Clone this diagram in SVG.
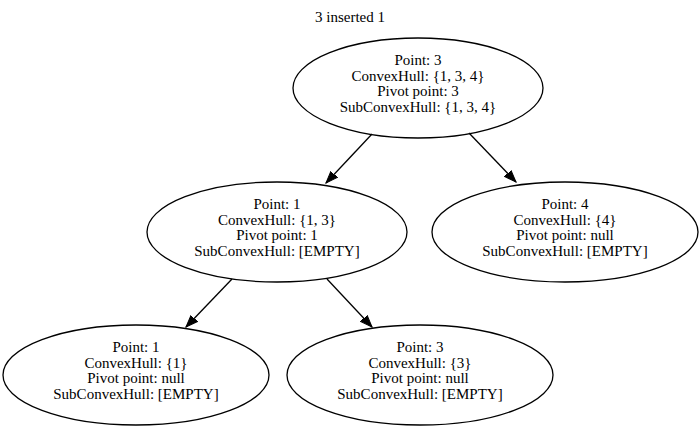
<svg xmlns="http://www.w3.org/2000/svg" width="700" height="434" viewBox="0 0 700 434">
<defs>
<style>
.n ellipse{fill:none;stroke:#000;stroke-width:1.3}
.e path{fill:none;stroke:#000;stroke-width:1.3}
</style>
<marker id="ah" markerWidth="14" markerHeight="11" refX="12" refY="4.5" orient="auto" markerUnits="userSpaceOnUse" viewBox="0 0 14 9">
<path d="M0,0 L12,4.5 L0,9 Z" fill="#000" stroke="#000"/>
</marker>
</defs>
<rect width="700" height="434" fill="#fff"/>
<g font-family="'Liberation Serif', 'Times New Roman', Times, serif" font-size="15" text-anchor="middle" fill="#000">
<text x="350" y="22">3 inserted 1</text>
<g class="e" id="edges">
<path d="M372,134 L326,183" marker-end="url(#ah)"/>
<path d="M469,133 L516,182" marker-end="url(#ah)"/>
<path d="M232,279 L186,327" marker-end="url(#ah)"/>
<path d="M327,279 L372,327" marker-end="url(#ah)"/>
</g>
<g class="n" id="n3">
<ellipse cx="418" cy="88" rx="125" ry="50"/>
<text x="418" y="65">Point: 3</text>
<text x="418" y="81">ConvexHull: {1, 3, 4}</text>
<text x="418" y="96">Pivot point: 3</text>
<text x="418" y="112">SubConvexHull: {1, 3, 4}</text>
</g>
<g class="n" id="n1">
<ellipse cx="277" cy="232" rx="130" ry="50"/>
<text x="277" y="209">Point: 1</text>
<text x="277" y="225">ConvexHull: {1, 3}</text>
<text x="277" y="240">Pivot point: 1</text>
<text x="277" y="256">SubConvexHull: [EMPTY]</text>
</g>
<g class="n" id="n4">
<ellipse cx="565" cy="232" rx="133" ry="50"/>
<text x="565" y="209">Point: 4</text>
<text x="565" y="225">ConvexHull: {4}</text>
<text x="565" y="240">Pivot point: null</text>
<text x="565" y="256">SubConvexHull: [EMPTY]</text>
</g>
<g class="n" id="n1b">
<ellipse cx="136" cy="375" rx="133" ry="50"/>
<text x="136" y="352">Point: 1</text>
<text x="136" y="368">ConvexHull: {1}</text>
<text x="136" y="383">Pivot point: null</text>
<text x="136" y="399">SubConvexHull: [EMPTY]</text>
</g>
<g class="n" id="n3b">
<ellipse cx="420" cy="375" rx="133" ry="50"/>
<text x="420" y="352">Point: 3</text>
<text x="420" y="368">ConvexHull: {3}</text>
<text x="420" y="383">Pivot point: null</text>
<text x="420" y="399">SubConvexHull: [EMPTY]</text>
</g>
</g>
</svg>
